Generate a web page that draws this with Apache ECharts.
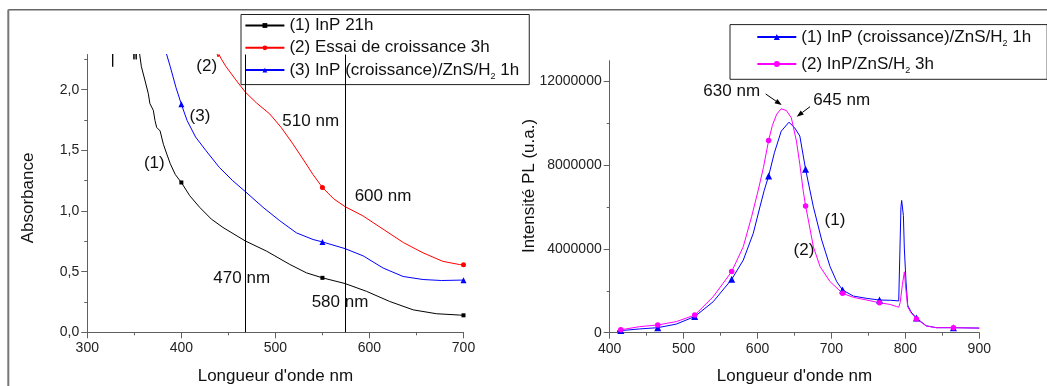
<!DOCTYPE html>
<html><head><meta charset="utf-8">
<script src="https://cdn.jsdelivr.net/npm/echarts@6/dist/echarts.min.js"></script>
<style>html,body{margin:0;padding:0;background:#fff}#c{width:1047px;height:386px}</style>
</head><body><div id="c"></div>
<script>
// ---------- DATA ----------
// Left chart: absorbance vs wavelength (nm)
const absInP21h = [
  [326.7,2.6],[327,2.19],[327.3,2.6],[349,2.6],[349.6,2.25],[350.2,2.6],[351.5,2.6],[352,2.25],[352.6,2.6],[354.8,2.4],
  [355.8,2.285],[357.5,2.19],[361.2,2.08],[364.8,1.97],[366.6,1.885],[370.2,1.83],[372,1.745],[373.7,1.69],[377.4,1.66],
  [380.9,1.55],[384.5,1.47],[388.2,1.39],[393.6,1.30],[400,1.235],[408.9,1.126],[419.5,1.03],[431.9,0.933],[444.3,0.864],
  [468,0.753],[490.4,0.67],[515.2,0.56],[533,0.49],[550,0.449],[574,0.402],[596.8,0.338],[621.6,0.254],[646.5,0.185],
  [671.3,0.153],[696,0.142],[700,0.14]
];
const absEssai3h = [
  [437.8,2.30],[439,2.27],[440,2.29],[442,2.26],[447.5,2.19],[458,2.08],[468,1.98],[480,1.89],[494,1.80],[506,1.69],
  [518,1.56],[530,1.42],[540,1.30],[550,1.194],[562,1.10],[574,1.036],[593,0.96],[614.5,0.85],[636,0.74],[657,0.655],
  [678,0.585],[696,0.558],[700,0.556]
];
const absZnS1h = [
  [383.8,2.305],[388.2,2.19],[394.2,2.02],[400,1.88],[406.1,1.746],[415.1,1.61],[425.9,1.50],[440.3,1.36],[454.6,1.25],
  [468,1.16],[486.9,1.03],[504.6,0.92],[522.3,0.82],[540,0.765],[550,0.745],[574,0.69],[593.3,0.63],[614.5,0.53],
  [635.8,0.46],[657,0.435],[676.6,0.427],[696,0.43],[700,0.43]
];
const absInP21hMarkers = [[400,1.235],[550,0.449],[700,0.14]];
const absEssai3hMarkers = [[550,1.194],[700,0.556]];
const absZnS1hMarkers = [[400,1.88],[550,0.745],[700,0.43]];
const absCutWavelengths = [468, 574];
const absMajorTicks = [0, 0.5, 1.0, 1.5, 2.0];
const absMinorTicks = [0.25, 0.75, 1.25, 1.75, 2.25];

// Right chart: PL intensity vs wavelength (nm)
const plZnS1h = [
  [410,0.05e6],[415,0.10e6],[440.7,0.18e6],[465,0.24e6],[490,0.41e6],[515,0.77e6],[540,1.48e6],[565,2.55e6],
  [580.7,3.47e6],[594.2,4.75e6],[603.3,6.02e6],[609,6.8e6],[615,7.49e6],[622.8,8.6e6],[632,9.63e6],[642.5,10.06e6],
  [650.3,9.79e6],[657.2,9.40e6],[665,7.81e6],[671,6.78e6],[675.5,6.02e6],[686.8,4.43e6],[698.1,3.16e6],[707.1,2.44e6],
  [715,2.04e6],[729.7,1.75e6],[747.8,1.64e6],[765,1.56e6],[780,1.55e6],[791,1.52e6],[794,6.0e6],[795,6.32e6],
  [797.3,5.6e6],[798.6,4.0e6],[800.9,2.42e6],[803.2,1.30e6],[807.7,0.99e6],[815,0.70e6],[828.2,0.33e6],[841.8,0.24e6],
  [865,0.24e6],[900,0.22e6]
];
const plZnS3h = [
  [410,0.10e6],[415,0.14e6],[440.7,0.29e6],[465,0.37e6],[490,0.53e6],[515,0.84e6],[540,1.72e6],[565,2.92e6],
  [580.7,4.11e6],[592,5.55e6],[601,6.82e6],[608,7.9e6],[615,9.19e6],[620,9.9e6],[626,10.45e6],[632,10.70e6],
  [639,10.62e6],[645.7,10.27e6],[652.6,9.16e6],[657.2,8.05e6],[661.8,6.78e6],[665,6.06e6],[668.7,5.39e6],
  [675.5,4.11e6],[684.6,3.16e6],[698.1,2.44e6],[715,1.88e6],[729.7,1.69e6],[747.8,1.56e6],[765,1.43e6],
  [779.4,1.35e6],[788,1.25e6],[791,1.22e6],[793,1.45e6],[796,2.3e6],[798.6,2.91e6],[800.9,1.99e6],[803.2,1.23e6],
  [807.7,0.95e6],[815,0.66e6],[828.2,0.32e6],[841.8,0.24e6],[865,0.24e6],[900,0.22e6]
];
const plZnS1hMarkers = [[415,0.10e6],[465,0.24e6],[515,0.77e6],[565,2.55e6],[615,7.49e6],[665,7.81e6],[715,2.04e6],[765,1.56e6],[815,0.70e6],[865,0.24e6]];
const plZnS3hMarkers = [[415,0.14e6],[465,0.37e6],[515,0.84e6],[565,2.92e6],[615,9.19e6],[665,6.06e6],[715,1.88e6],[765,1.43e6],[815,0.66e6],[865,0.24e6]];
const plMajorTicks = [0, 4000000, 8000000, 12000000];
const plMinorTicks = [2000000, 6000000, 10000000];

const absNames = ['(1) InP 21h', '(2) Essai de croissance 3h', '(3) InP (croissance)/ZnS/H2 1h'];
const plNames = ['(1) InP (croissance)/ZnS/H2 1h', '(2) InP/ZnS/H2 3h'];

// ---------- STYLE ----------
const FONT = '"Liberation Sans", Arial, sans-serif';
const AX = '#606060';
const TXT = '#111';

function xAxisDef(grid, min, max, gap) {
  return {
    gridIndex: grid, type: 'value', min: min, max: max, interval: 100,
    name: "Longueur d'onde nm", nameLocation: 'middle', nameGap: gap,
    nameTextStyle: { fontFamily: FONT, fontSize: 17, color: TXT },
    axisLine: { show: true, onZero: false, lineStyle: { color: AX, width: 1 } },
    axisTick: { show: true, length: 6, lineStyle: { color: AX } },
    minorTick: { show: true, splitNumber: 2, length: 3, lineStyle: { color: AX } },
    axisLabel: { fontFamily: FONT, fontSize: 14, color: '#222', margin: 9 },
    splitLine: { show: false }, minorSplitLine: { show: false }
  };
}
function yAxisDef(grid, max, interval, major, minor, fmt, isMinor) {
  return {
    gridIndex: grid, type: 'value', position: 'left', min: 0, max: max, interval: interval,
    axisLine: { show: !isMinor, onZero: false, lineStyle: { color: AX, width: 1 } },
    axisTick: { show: true, customValues: isMinor ? minor : major, length: isMinor ? 3 : 6, lineStyle: { color: AX } },
    axisLabel: isMinor ? { show: false } : { show: true, customValues: major, formatter: fmt, fontFamily: FONT, fontSize: 14, color: '#222', margin: 8 },
    splitLine: { show: false }
  };
}
function lineSeries(name, data, color, symbol, xi, yi, extra) {
  return Object.assign({
    name: name, type: 'line', xAxisIndex: xi, yAxisIndex: yi, data: data,
    symbol: symbol, showSymbol: false, symbolSize: 5, clip: true, smooth: false,
    lineStyle: { color: color, width: 1 }, itemStyle: { color: color },
    emphasis: { disabled: true }, silent: true, z: 2
  }, extra || {});
}
function markerSeries(data, color, symbol, size, xi, yi) {
  return {
    name: '_m', type: 'scatter', xAxisIndex: xi, yAxisIndex: yi, data: data,
    symbol: symbol, symbolSize: size, itemStyle: { color: color, opacity: 1 },
    emphasis: { disabled: true }, silent: true, z: 3
  };
}
function legendDef(names, left, top, padding, gap, iconH) {
  return {
    data: names, orient: 'vertical', left: left, top: top, padding: padding, itemGap: gap,
    itemWidth: 39, itemHeight: iconH, selectedMode: false,
    backgroundColor: '#fff', borderColor: '#222', borderWidth: 1, borderRadius: 0,
    formatter: n => n.replace('/H2', '/H{sub|2}'),
    textStyle: {
      fontFamily: FONT, fontSize: 17, color: TXT, lineHeight: 22,
      rich: { sub: { fontFamily: FONT, fontSize: 9, lineHeight: 9, verticalAlign: 'bottom', color: TXT } }
    }
  };
}
function txt(s, x, y, rot) {
  return { type: 'text', x: x, y: y, rotation: rot || 0, z: 50, silent: true,
    style: { text: s, fill: TXT, fontFamily: FONT, fontSize: 17, align: 'center', verticalAlign: 'middle' } };
}
function arrow(x1, y1, x2, y2) {
  const a = Math.atan2(y2 - y1, x2 - x1), L = 7, W = 2.6;
  const bx = x2 - L * Math.cos(a), by = y2 - L * Math.sin(a);
  const px = -Math.sin(a) * W, py = Math.cos(a) * W;
  return [
    { type: 'line', z: 50, silent: true, shape: { x1: x1, y1: y1, x2: bx, y2: by }, style: { stroke: '#000', lineWidth: 1 } },
    { type: 'polygon', z: 50, silent: true, shape: { points: [[x2, y2], [bx + px, by + py], [bx - px, by - py]] }, style: { fill: '#000' } }
  ];
}

const chart = echarts.init(document.getElementById('c'), null, { renderer: 'canvas' });
const option = {
  animation: false,
  backgroundColor: '#fff',
  grid: [
    { left: 87.3, top: 54.5, width: 376.2, height: 277.8, containLabel: false, outerBoundsMode: 'none' },
    { left: 609.7, top: 60.7, width: 369.6, height: 272, containLabel: false, outerBoundsMode: 'none' }
  ],
  xAxis: [ xAxisDef(0, 300, 700, 36), xAxisDef(1, 400, 900, 35) ],
  yAxis: [
    yAxisDef(0, 2.29, 0.5, absMajorTicks, absMinorTicks, v => v.toFixed(1).replace('.', ','), false),
    yAxisDef(0, 2.29, 0.5, absMajorTicks, absMinorTicks, null, true),
    yAxisDef(1, 13000000, 4000000, plMajorTicks, plMinorTicks, v => String(Math.round(v)), false),
    yAxisDef(1, 13000000, 4000000, plMajorTicks, plMinorTicks, null, true)
  ],
  legend: [
    legendDef(absNames, 241, 14.5, [0, 10, 3.5, 3.4], 0.3, 6),
    legendDef(plNames, 730, 24.6, [1.5, 16, 4.2, 26.3], 5, 7.5)
  ],
  series: [
    lineSeries(absNames[0], absInP21h, '#000000', 'rect', 0, 0, {
      markLine: {
        silent: true, symbol: ['none', 'none'], label: { show: false }, animation: false,
        lineStyle: { color: '#000', width: 1, type: 'solid' }, emphasis: { disabled: true },
        data: absCutWavelengths.map(v => ({ xAxis: v }))
      }
    }),
    lineSeries(absNames[1], absEssai3h, '#ff0000', 'circle', 0, 0),
    lineSeries(absNames[2], absZnS1h, '#0000ff', 'triangle', 0, 0),
    markerSeries(absInP21hMarkers, '#000000', 'rect', 4, 0, 0),
    markerSeries(absEssai3hMarkers, '#ff0000', 'circle', 5, 0, 0),
    markerSeries(absZnS1hMarkers, '#0000ff', 'triangle', 6, 0, 0),
    lineSeries(plNames[0], plZnS1h, '#0000ff', 'triangle', 1, 2),
    lineSeries(plNames[1], plZnS3h, '#ff00ff', 'circle', 1, 2),
    markerSeries(plZnS1hMarkers, '#0000ff', 'triangle', 7, 1, 2),
    markerSeries(plZnS3hMarkers, '#ff00ff', 'circle', 5.5, 1, 2)
  ],
  graphic: [
    { type: 'line', z: 60, silent: true, shape: { x1: 8.3, y1: 9.8, x2: 1047, y2: 9.8 }, style: { stroke: '#666', lineWidth: 1.6 } },
    { type: 'line', z: 60, silent: true, shape: { x1: 8.3, y1: 9.8, x2: 8.3, y2: 386 }, style: { stroke: '#777', lineWidth: 2 } },
    txt('Absorbance', 28.6, 198, Math.PI / 2),
    txt('Intensité PL (u.a.)', 529.3, 186, Math.PI / 2),
    txt('(2)', 206.7, 66.7), txt('(3)', 200, 116.7), txt('(1)', 154.3, 163.3),
    txt('510 nm', 310.7, 121.7), txt('600 nm', 383, 196),
    txt('470 nm', 241.7, 278.3), txt('580 nm', 340, 302.7),
    txt('630 nm', 731.7, 91), txt('645 nm', 841.7, 100.7),
    txt('(1)', 835, 220), txt('(2)', 804, 250.7)
  ].concat(arrow(765.7, 94, 781.7, 105), arrow(810, 106.7, 796.7, 116.7))
};
chart.setOption(option);
</script></body></html>
